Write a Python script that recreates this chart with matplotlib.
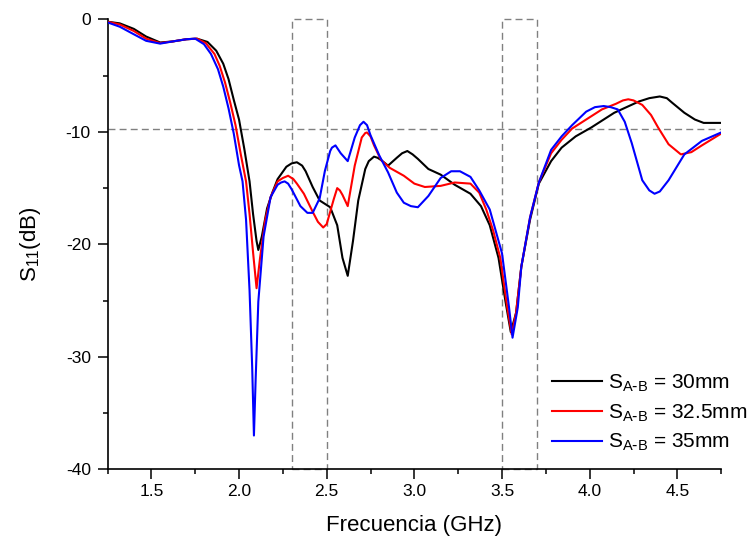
import matplotlib
matplotlib.use("Agg")
import matplotlib.pyplot as plt
from matplotlib.patches import Rectangle

plt.rcParams['font.family'] = ['Liberation Sans', 'DejaVu Sans']
plt.rcParams['mathtext.default'] = 'regular'
plt.rcParams['axes.unicode_minus'] = False

# S11 curves (frequency in GHz, S11 in dB)
f_30 = [1.25, 1.32, 1.40, 1.47, 1.55, 1.62, 1.70, 1.76, 1.82, 1.87, 1.91, 1.94,
        1.97, 2.00, 2.03, 2.06, 2.08, 2.10, 2.11, 2.13, 2.16, 2.19, 2.22, 2.27,
        2.30, 2.33, 2.36, 2.38, 2.42, 2.46, 2.52, 2.56, 2.59, 2.62, 2.65, 2.68,
        2.72, 2.74, 2.77, 2.79, 2.81, 2.85, 2.90, 2.93, 2.96, 2.99, 3.02, 3.08,
        3.15, 3.23, 3.32, 3.38, 3.43, 3.48, 3.52, 3.55, 3.58, 3.61, 3.66, 3.71,
        3.78, 3.84, 3.92, 4.01, 4.14, 4.28, 4.34, 4.40, 4.44, 4.47, 4.54, 4.60,
        4.65, 4.75]
s_30 = [-0.2, -0.35, -0.84, -1.52, -2.05, -1.96, -1.76, -1.71, -2.0, -2.78, -3.94, -5.3,
        -7.15, -8.9, -11.5, -14.4, -17.3, -19.7, -20.5, -19.3, -16.8, -15.4, -14.2, -13.1,
        -12.8, -12.7, -13.0, -13.5, -14.9, -16.1, -16.7, -18.3, -21.2, -22.8, -19.7, -16.1,
        -13.3, -12.6, -12.2, -12.3, -12.5, -13.0, -12.3, -11.9, -11.7, -12.0, -12.4, -13.3,
        -13.8, -14.7, -15.5, -16.6, -18.3, -21.2, -25.1, -27.8, -26.1, -22.0, -17.8, -14.6,
        -12.6, -11.4, -10.4, -9.6, -8.3, -7.3, -7.0, -6.85, -7.0, -7.4, -8.3, -8.9,
        -9.2, -9.2]

f_325 = [1.25, 1.32, 1.40, 1.47, 1.55, 1.62, 1.70, 1.76, 1.81, 1.86, 1.89, 1.92,
         1.95, 1.98, 2.01, 2.04, 2.06, 2.08, 2.10, 2.12, 2.15, 2.18, 2.22, 2.25,
         2.28, 2.31, 2.33, 2.37, 2.42, 2.45, 2.48, 2.50, 2.52, 2.54, 2.56, 2.575,
         2.59, 2.62, 2.66, 2.70, 2.72, 2.73, 2.75, 2.77, 2.81, 2.86, 2.94, 3.00,
         3.06, 3.15, 3.23, 3.32, 3.37, 3.41, 3.45, 3.49, 3.53, 3.555, 3.58, 3.61,
         3.66, 3.71, 3.78, 3.84, 3.90, 4.07, 4.15, 4.19, 4.22, 4.25, 4.30, 4.35,
         4.39, 4.45, 4.52, 4.58, 4.64, 4.75]
s_325 = [-0.2, -0.45, -1.03, -1.71, -2.1, -1.96, -1.76, -1.71, -2.1, -3.07, -4.14, -5.6,
         -7.4, -9.4, -12.0, -14.4, -17.3, -20.7, -23.9, -21.2, -17.8, -15.8, -14.4, -14.1,
         -13.9, -14.2, -14.6, -15.5, -17.1, -18.0, -18.5, -18.2, -17.1, -16.0, -15.0, -15.2,
         -15.6, -16.6, -13.0, -10.5, -10.1, -10.05, -10.4, -11.2, -12.5, -13.2, -13.9, -14.6,
         -14.9, -14.8, -14.5, -14.6, -15.4, -16.9, -18.8, -21.2, -25.6, -28.0, -26.1, -22.0,
         -17.6, -14.5, -11.9, -10.7, -9.7, -8.0, -7.5, -7.2, -7.1, -7.2, -7.6, -8.5,
         -9.6, -11.1, -12.0, -11.8, -11.2, -10.15]

f_35 = [1.25, 1.32, 1.40, 1.47, 1.55, 1.62, 1.70, 1.75, 1.80, 1.84, 1.88, 1.91,
        1.94, 1.97, 2.00, 2.02, 2.04, 2.06, 2.075, 2.085, 2.095, 2.11, 2.14, 2.18,
        2.22, 2.24, 2.26, 2.28, 2.30, 2.35, 2.39, 2.42, 2.46, 2.49, 2.52, 2.53,
        2.55, 2.58, 2.62, 2.66, 2.69, 2.71, 2.73, 2.75, 2.80, 2.85, 2.90, 2.94,
        2.98, 3.02, 3.08, 3.15, 3.21, 3.26, 3.32, 3.37, 3.43, 3.50, 3.54, 3.56,
        3.59, 3.61, 3.66, 3.71, 3.78, 3.84, 3.90, 3.98, 4.03, 4.08, 4.12, 4.16,
        4.20, 4.24, 4.30, 4.34, 4.37, 4.40, 4.45, 4.54, 4.64, 4.75]
s_35 = [-0.26, -0.65, -1.32, -1.9, -2.15, -1.96, -1.76, -1.71, -2.2, -3.07, -4.43, -5.98,
        -7.9, -10.15, -12.96, -14.4, -17.8, -24.1, -30.9, -37.0, -31.9, -25.1, -19.3, -15.8,
        -14.7, -14.5, -14.4, -14.6, -15.1, -16.6, -17.2, -17.2, -15.9, -13.45, -11.7, -11.4,
        -11.2, -11.9, -12.6, -10.5, -9.4, -9.1, -9.4, -10.3, -12.1, -13.6, -15.4, -16.3,
        -16.6, -16.7, -15.7, -14.1, -13.5, -13.5, -14.0, -15.2, -16.9, -20.8, -25.6, -28.3,
        -25.6, -22.0, -17.6, -14.5, -11.6, -10.4, -9.4, -8.2, -7.8, -7.7, -7.8, -8.0,
        -9.1, -11.0, -14.3, -15.2, -15.5, -15.3, -14.3, -12.0, -10.8, -10.05]

labels = ['S$_{A\\text{-}B}$ = 30mm', 'S$_{A\\text{-}B}$ = 32.5mm', 'S$_{A\\text{-}B}$ = 35mm']
colors = ['black', 'red', 'blue']

bands = [(2.3, 2.5), (3.5, 3.7)]
ref_level = -9.7

fig = plt.figure(figsize=(7.52, 5.40), dpi=100)
ax = fig.add_axes([0.1430, 0.1310, 0.8160, 0.8330])

# dashed guides
ax.axhline(ref_level, color='#808080', ls=(0, (5, 3)), lw=1.0, zorder=1)
for lo, hi in bands:
    ax.add_patch(Rectangle((lo, -40), hi - lo, 40, fill=False, ec='#808080',
                           ls=(0, (5, 3)), lw=1.0, zorder=1, clip_on=False))

for f, s, c, lab in zip([f_30, f_325, f_35], [s_30, s_325, s_35], colors, labels):
    ax.plot(f, s, color=c, lw=1.5, label=lab, zorder=3, solid_joinstyle='round')

ax.set_xlim(1.25, 4.75)
ax.set_ylim(-40, 0)
ax.set_xticks([1.5, 2.0, 2.5, 3.0, 3.5, 4.0, 4.5])
ax.set_xticks([1.25, 1.75, 2.25, 2.75, 3.25, 3.75, 4.25, 4.75], minor=True)
ax.set_yticks([0, -10, -20, -30, -40])
ax.set_yticks([-5, -15, -25, -35], minor=True)
ax.tick_params(which='major', direction='out', length=7, width=1.1, labelsize=12.5)
ax.tick_params(which='minor', direction='out', length=3.5, width=1.1)
ax.tick_params(axis='y', which='major', pad=5)
for side in ['top', 'right']:
    ax.spines[side].set_visible(False)
for side in ['left', 'bottom']:
    ax.spines[side].set_linewidth(1.2)

ax.set_xlabel('Frecuencia (GHz)', fontsize=16)
ax.set_ylabel('S$_{11}$(dB)', fontsize=16)
ax.xaxis.set_label_coords(0.5, -0.102)
ax.yaxis.set_label_coords(-0.105, 0.5)

leg = ax.legend(loc='center left', bbox_to_anchor=(552 / 752, 1 - 413 / 540),
                bbox_transform=fig.transFigure, frameon=False, fontsize=15,
                handlelength=2.4, handletextpad=0.3, labelspacing=0.4,
                borderpad=0, borderaxespad=0)

fig.savefig('out.png', dpi=100)
